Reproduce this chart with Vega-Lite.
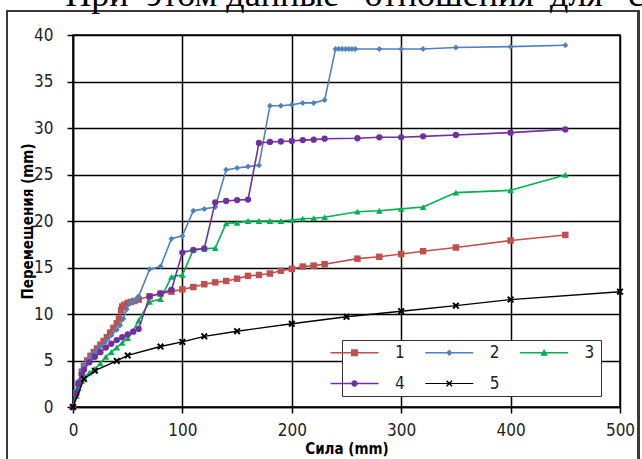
{
  "$schema": "https://vega.github.io/schema/vega-lite/v6.json",
  "width": 547,
  "height": 372,
  "autosize": {"type": "none"},
  "padding": {"left": 73, "top": 35, "right": 22, "bottom": 52},
  "background": "white",
  "title": {"text": "При \u00a0этом данные \u00a0\u2009отношения \u2009для \u00a0\u2009случая", "anchor": "start", "font": "Liberation Serif", "fontSize": 36, "fontWeight": "normal", "color": "#000", "baseline": "alphabetic", "offset": -32, "dx": 59},
  "datasets": {
    "pts": [
      {"s":"1","x":0,"y":0},{"s":"1","x":3,"y":1.5},{"s":"1","x":5,"y":2.5},{"s":"1","x":8,"y":3.8},{"s":"1","x":10,"y":4.4},{"s":"1","x":13,"y":5.0},{"s":"1","x":16,"y":5.5},{"s":"1","x":19,"y":5.9},{"s":"1","x":22,"y":6.3},{"s":"1","x":25,"y":6.7},{"s":"1","x":28,"y":7.1},{"s":"1","x":31,"y":7.5},{"s":"1","x":34,"y":8.0},{"s":"1","x":37,"y":8.5},{"s":"1","x":40,"y":9.0},{"s":"1","x":42,"y":9.5},{"s":"1","x":44,"y":10.4},{"s":"1","x":45,"y":10.8},{"s":"1","x":47,"y":11.0},{"s":"1","x":50,"y":11.2},{"s":"1","x":53,"y":11.3},{"s":"1","x":56,"y":11.4},{"s":"1","x":60,"y":11.55},{"s":"1","x":70,"y":11.9},{"s":"1","x":80,"y":12.2},{"s":"1","x":90,"y":12.4},{"s":"1","x":100,"y":12.65},{"s":"1","x":110,"y":12.9},{"s":"1","x":120,"y":13.2},{"s":"1","x":130,"y":13.4},{"s":"1","x":140,"y":13.55},{"s":"1","x":150,"y":13.8},{"s":"1","x":160,"y":14.1},{"s":"1","x":170,"y":14.2},{"s":"1","x":180,"y":14.35},{"s":"1","x":190,"y":14.65},{"s":"1","x":200,"y":14.85},{"s":"1","x":210,"y":15.1},{"s":"1","x":220,"y":15.2},{"s":"1","x":230,"y":15.35},{"s":"1","x":260,"y":15.95},{"s":"1","x":280,"y":16.15},{"s":"1","x":300,"y":16.45},{"s":"1","x":320,"y":16.75},{"s":"1","x":350,"y":17.15},{"s":"1","x":400,"y":17.9},{"s":"1","x":450,"y":18.5},
      {"s":"2","x":0,"y":0},{"s":"2","x":3,"y":1.8},{"s":"2","x":5,"y":2.8},{"s":"2","x":8,"y":3.9},{"s":"2","x":10,"y":4.5},{"s":"2","x":15,"y":5.3},{"s":"2","x":20,"y":5.9},{"s":"2","x":25,"y":6.5},{"s":"2","x":30,"y":7.1},{"s":"2","x":35,"y":7.7},{"s":"2","x":40,"y":8.3},{"s":"2","x":43,"y":8.8},{"s":"2","x":46,"y":9.5},{"s":"2","x":49,"y":10.5},{"s":"2","x":52,"y":11.2},{"s":"2","x":55,"y":11.4},{"s":"2","x":58,"y":11.6},{"s":"2","x":60,"y":11.9},{"s":"2","x":70,"y":14.8},{"s":"2","x":80,"y":15.1},{"s":"2","x":90,"y":18.1},{"s":"2","x":100,"y":18.4},{"s":"2","x":110,"y":21.1},{"s":"2","x":120,"y":21.3},{"s":"2","x":130,"y":21.5},{"s":"2","x":140,"y":25.5},{"s":"2","x":150,"y":25.7},{"s":"2","x":160,"y":25.85},{"s":"2","x":170,"y":26.0},{"s":"2","x":180,"y":32.4},{"s":"2","x":190,"y":32.4},{"s":"2","x":200,"y":32.5},{"s":"2","x":210,"y":32.7},{"s":"2","x":220,"y":32.7},{"s":"2","x":230,"y":33.0},{"s":"2","x":240,"y":38.5},{"s":"2","x":243,"y":38.5},{"s":"2","x":246,"y":38.5},{"s":"2","x":249,"y":38.5},{"s":"2","x":252,"y":38.5},{"s":"2","x":255,"y":38.5},{"s":"2","x":258,"y":38.5},{"s":"2","x":280,"y":38.5},{"s":"2","x":300,"y":38.5},{"s":"2","x":320,"y":38.5},{"s":"2","x":350,"y":38.65},{"s":"2","x":400,"y":38.75},{"s":"2","x":450,"y":38.9},
      {"s":"3","x":0,"y":0},{"s":"3","x":3,"y":1.2},{"s":"3","x":5,"y":2.0},{"s":"3","x":8,"y":2.8},{"s":"3","x":10,"y":3.2},{"s":"3","x":15,"y":3.7},{"s":"3","x":20,"y":4.1},{"s":"3","x":25,"y":4.7},{"s":"3","x":30,"y":5.4},{"s":"3","x":35,"y":5.9},{"s":"3","x":40,"y":6.4},{"s":"3","x":45,"y":6.9},{"s":"3","x":50,"y":7.4},{"s":"3","x":55,"y":8.2},{"s":"3","x":60,"y":9.3},{"s":"3","x":70,"y":11.3},{"s":"3","x":80,"y":11.6},{"s":"3","x":90,"y":14.0},{"s":"3","x":100,"y":14.2},{"s":"3","x":110,"y":16.9},{"s":"3","x":120,"y":17.0},{"s":"3","x":130,"y":17.1},{"s":"3","x":140,"y":19.75},{"s":"3","x":150,"y":19.8},{"s":"3","x":160,"y":20.0},{"s":"3","x":170,"y":20.0},{"s":"3","x":180,"y":20.0},{"s":"3","x":190,"y":20.0},{"s":"3","x":200,"y":20.1},{"s":"3","x":210,"y":20.25},{"s":"3","x":220,"y":20.3},{"s":"3","x":230,"y":20.4},{"s":"3","x":260,"y":21.0},{"s":"3","x":280,"y":21.1},{"s":"3","x":300,"y":21.3},{"s":"3","x":320,"y":21.5},{"s":"3","x":350,"y":23.05},{"s":"3","x":400,"y":23.3},{"s":"3","x":450,"y":24.95},
      {"s":"4","x":0,"y":0},{"s":"4","x":3,"y":1.5},{"s":"4","x":5,"y":2.5},{"s":"4","x":8,"y":3.5},{"s":"4","x":10,"y":4.0},{"s":"4","x":15,"y":4.8},{"s":"4","x":20,"y":5.4},{"s":"4","x":25,"y":5.9},{"s":"4","x":30,"y":6.4},{"s":"4","x":35,"y":6.8},{"s":"4","x":40,"y":7.2},{"s":"4","x":45,"y":7.5},{"s":"4","x":50,"y":7.8},{"s":"4","x":55,"y":8.1},{"s":"4","x":60,"y":8.4},{"s":"4","x":70,"y":11.9},{"s":"4","x":80,"y":12.2},{"s":"4","x":90,"y":12.6},{"s":"4","x":100,"y":16.6},{"s":"4","x":110,"y":16.9},{"s":"4","x":120,"y":17.05},{"s":"4","x":130,"y":22.0},{"s":"4","x":140,"y":22.15},{"s":"4","x":150,"y":22.25},{"s":"4","x":160,"y":22.3},{"s":"4","x":170,"y":28.4},{"s":"4","x":180,"y":28.5},{"s":"4","x":190,"y":28.55},{"s":"4","x":200,"y":28.6},{"s":"4","x":210,"y":28.7},{"s":"4","x":220,"y":28.75},{"s":"4","x":230,"y":28.85},{"s":"4","x":260,"y":28.9},{"s":"4","x":280,"y":29.0},{"s":"4","x":300,"y":29.0},{"s":"4","x":320,"y":29.1},{"s":"4","x":350,"y":29.25},{"s":"4","x":400,"y":29.5},{"s":"4","x":450,"y":29.85},
      {"s":"5","x":0,"y":0},{"s":"5","x":10,"y":3.0},{"s":"5","x":20,"y":3.9},{"s":"5","x":40,"y":4.95},{"s":"5","x":50,"y":5.55},{"s":"5","x":80,"y":6.5},{"s":"5","x":100,"y":7.0},{"s":"5","x":120,"y":7.6},{"s":"5","x":150,"y":8.15},{"s":"5","x":200,"y":8.95},{"s":"5","x":250,"y":9.7},{"s":"5","x":300,"y":10.3},{"s":"5","x":350,"y":10.9},{"s":"5","x":400,"y":11.55},{"s":"5","x":500,"y":12.4}
    ]
  },
  "data": {"name": "pts"},
  "encoding": {
    "x": {"field": "x", "type": "quantitative", "scale": {"domain": [0, 500], "nice": false},
      "axis": {"values": [0, 100, 200, 300, 400, 500], "title": "Сила (mm)", "labelPadding": 9, "titlePadding": 3}},
    "y": {"field": "y", "type": "quantitative", "scale": {"domain": [0, 40], "nice": false},
      "axis": {"values": [0, 5, 10, 15, 20, 25, 30, 35, 40], "title": "Перемещения (mm)", "labelPadding": 14, "titlePadding": -2}}
  },
  "layer": [
    {
      "mark": {"type": "rect", "fill": "transparent", "stroke": "#3a3a3a", "strokeWidth": 1.5, "clip": false},
      "encoding": {
        "x": {"datum": -60.3, "scale": {"domain": [0, 500], "nice": false}},
        "x2": {"datum": 517},
        "y": {"datum": 42.57, "scale": {"domain": [0, 40], "nice": false}},
        "y2": {"datum": -6}
      }
    },
    {"transform": [{"filter": "datum.s === '1'"}], "mark": {"type": "line", "color": "#C0504D", "strokeWidth": 1.6, "point": {"shape": "square", "filled": true, "size": 42, "color": "#C0504D", "opacity": 1}}},
    {"transform": [{"filter": "datum.s === '2'"}], "mark": {"type": "line", "color": "#4F81BD", "strokeWidth": 1.6, "point": {"shape": "diamond", "filled": true, "size": 36, "color": "#4F81BD", "opacity": 1}}},
    {"transform": [{"filter": "datum.s === '3'"}], "mark": {"type": "line", "color": "#00B050", "strokeWidth": 1.6, "point": {"shape": "triangle-up", "filled": true, "size": 45, "color": "#00B050", "opacity": 1}}},
    {"transform": [{"filter": "datum.s === '4'"}], "mark": {"type": "line", "color": "#7030A0", "strokeWidth": 1.6, "point": {"shape": "circle", "filled": true, "size": 40, "color": "#7030A0", "opacity": 1}}},
    {"transform": [{"filter": "datum.s === '5'"}], "mark": {"type": "line", "color": "#000000", "strokeWidth": 1.4, "point": {"shape": "M-1,-0.6L-0.6,-1L0,-0.4L0.6,-1L1,-0.6L0.4,0L1,0.6L0.6,1L0,0.4L-0.6,1L-1,0.6L-0.4,0Z", "filled": true, "size": 49, "color": "#000000", "opacity": 1}}},
    {
      "mark": {"type": "point", "filled": true, "opacity": 0},
      "encoding": {
        "color": {"field": "s", "type": "nominal",
          "scale": {"domain": ["1", "2", "3", "4", "5"], "range": ["#C0504D", "#4F81BD", "#00B050", "#7030A0", "#000000"]},
          "legend": {"title": null, "orient": "none", "legendX": 269, "legendY": 305, "direction": "horizontal", "columns": 3, "symbolOpacity": 1, "labelExpr": "datum.label + '\u2002'"}},
        "shape": {"field": "s", "type": "nominal",
          "scale": {"domain": ["1", "2", "3", "4", "5"], "range": [
            "M-9.2,0L-9.2,0M13.1,0L13.1,0M-6,-0.2H6V0.2H-6ZM-0.875,-0.875H0.875V0.875H-0.875Z",
            "M-9.2,0L-9.2,0M13.1,0L13.1,0M-6,-0.2H6V0.2H-6ZM0,-0.8L0.8,0L0,0.8L-0.8,0Z",
            "M-9.2,0L-9.2,0M13.1,0L13.1,0M-6,-0.2H6V0.2H-6ZM0,-0.95L0.95,0.75L-0.95,0.75Z",
            "M-9.2,0L-9.2,0M13.1,0L13.1,0M-6,-0.2H6V0.2H-6ZM-0.8,0A0.8,0.8 0 1,1 0.8,0A0.8,0.8 0 1,1 -0.8,0Z",
            "M-9.2,0L-9.2,0M13.1,0L13.1,0M-6,-0.15H6V0.15H-6ZM-0.8,-0.55L-0.55,-0.8L0,-0.25L0.55,-0.8L0.8,-0.55L0.25,0L0.8,0.55L0.55,0.8L0,0.25L-0.55,0.8L-0.8,0.55L-0.25,0Z"
          ]},
          "legend": {"title": null, "orient": "none", "legendX": 269, "legendY": 305, "direction": "horizontal", "columns": 3, "symbolOpacity": 1, "labelExpr": "datum.label + '\u2002'"}}
      }
    }
  ],
  "config": {
    "font": "Liberation Sans Narrow, DejaVu Sans Condensed, Liberation Sans, sans-serif",
    "view": {"stroke": "#000", "strokeWidth": 1.5},
    "axis": {
      "grid": true, "gridColor": "#000", "gridWidth": 1.5, "gridOpacity": 1,
      "domainColor": "#000", "domainWidth": 1.5,
      "tickColor": "#000", "tickWidth": 1.5, "tickSize": 6,
      "labelFont": "Liberation Sans Narrow, DejaVu Sans Condensed, Liberation Sans, sans-serif",
      "labelFontSize": 17, "labelColor": "#222", "labelFlush": false, "labelOverlap": false,
      "titleFont": "Liberation Sans Narrow, DejaVu Sans Condensed, Liberation Sans, sans-serif",
      "titleFontSize": 15, "titleFontWeight": "bold", "titleColor": "#000"
    },
    "legend": {
      "symbolSize": 64, "symbolStrokeWidth": 0,
      "labelFont": "Liberation Sans Narrow, DejaVu Sans Condensed, Liberation Sans, sans-serif",
      "labelFontSize": 17, "labelColor": "#222", "labelOffset": 32,
      "padding": 4, "rowPadding": 13, "columnPadding": 4.8,
      "strokeColor": "#333", "fillColor": "white"
    }
  }
}
